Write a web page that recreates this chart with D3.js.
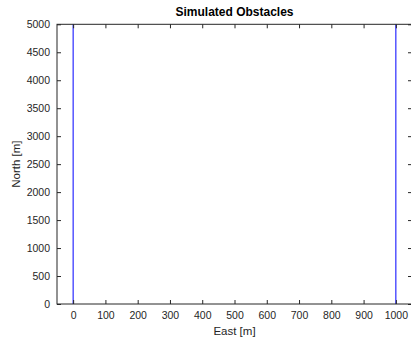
<!DOCTYPE html>
<html><head><meta charset="utf-8">
<script src="https://cdn.jsdelivr.net/npm/d3@7"></script>
<style>body{margin:0;background:#fff}svg{display:block;font-family:"Liberation Sans",Arial,sans-serif}</style>
</head><body><svg id="c" width="411" height="345"></svg>
<script>
const xTicks = [0,100,200,300,400,500,600,700,800,900,1000];
const yTicks = [0,500,1000,1500,2000,2500,3000,3500,4000,4500,5000];
const obstacleEast = [0, 1000];
const obstacleNorthStart = [0, 0];
const obstacleNorthEnd = [5000, 5000];
const xDomain = [-50, 1050];
const yDomain = [0, 5000];

const svg = d3.select("#c");
const L = 57, R = 412, T = 24.3, B = 304;
const x = d3.scaleLinear().domain(xDomain).range([L, R]);
const y = d3.scaleLinear().domain(yDomain).range([B, T]);
const ax = "#262626";
const fmt = d3.format("d");

// obstacles
obstacleEast.forEach((e, i) => {
  svg.append("line").attr("x1", x(e)).attr("x2", x(e))
    .attr("y1", y(obstacleNorthStart[i])).attr("y2", y(obstacleNorthEnd[i]))
    .attr("stroke", "#0000ff").attr("stroke-width", 1);
});

function style(g){
  g.select(".domain").remove();
  g.selectAll("line").attr("stroke", ax);
  g.selectAll("text").attr("fill", ax).attr("font-size", 10.5);
}
svg.append("g").attr("transform", `translate(0,${B})`)
  .call(d3.axisBottom(x).tickValues(xTicks).tickFormat(fmt).tickSizeInner(-4).tickSizeOuter(0).tickPadding(8))
  .call(style);
svg.append("g").attr("transform", `translate(0,${T})`)
  .call(d3.axisTop(x).tickValues(xTicks).tickSizeInner(-4).tickSizeOuter(0).tickFormat(""))
  .call(style);
svg.append("g").attr("transform", `translate(${L},0)`)
  .call(d3.axisLeft(y).tickValues(yTicks).tickFormat(fmt).tickSizeInner(-4).tickSizeOuter(0).tickPadding(7))
  .call(style);
svg.append("g").attr("transform", `translate(${R},0)`)
  .call(d3.axisRight(y).tickValues(yTicks).tickSizeInner(-4).tickSizeOuter(0).tickFormat(""))
  .call(style);

// box
svg.append("rect").attr("x", L).attr("y", T).attr("width", R - L).attr("height", B - T)
  .attr("fill", "none").attr("stroke", ax).attr("stroke-width", 1);

svg.append("text").attr("x", (L + R) / 2).attr("y", 16).attr("text-anchor", "middle")
  .attr("font-size", 12).attr("font-weight", "bold").attr("fill", "#000").text("Simulated Obstacles");
svg.append("text").attr("x", (L + R) / 2).attr("y", 335).attr("text-anchor", "middle")
  .attr("font-size", 11.5).attr("fill", ax).text("East [m]");
svg.append("text").attr("transform", `translate(20,${(T + B) / 2}) rotate(-90)`).attr("text-anchor", "middle")
  .attr("font-size", 11.5).attr("fill", ax).text("North [m]");
</script></body></html>
